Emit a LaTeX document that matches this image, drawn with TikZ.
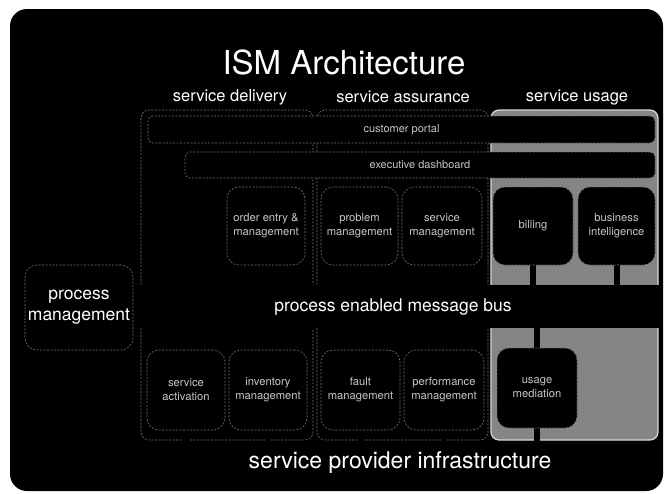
\documentclass[tikz,border=0pt]{standalone}
\usepackage{fontspec}
\setmainfont{TeX Gyre Heros}
\definecolor{usagegray}{gray}{0.52}
\definecolor{rimgray}{gray}{0.45}
\definecolor{usagerim}{gray}{0.85}
\definecolor{softtext}{gray}{0.78}
\begin{document}
\begin{tikzpicture}[x=1pt,y=-1pt,
  column/.style={draw=rimgray, dash pattern=on 2pt off 1.5pt, rounded corners=8pt, line width=0.6pt},
  usagecol/.style={draw=usagerim, fill=usagegray, rounded corners=8pt, line width=1.2pt},
  unit/.style={draw=rimgray, dash pattern=on 2pt off 1.5pt, fill=black, rounded corners=12pt,
    line width=0.6pt, inner sep=0pt, text=softtext, align=center,
    font=\fontsize{11.2}{14}\selectfont},
  bar/.style={draw=rimgray, dash pattern=on 2pt off 1.5pt, fill=black, rounded corners=5pt,
    line width=0.6pt, inner sep=0pt, text=softtext, font=\fontsize{11}{13}\selectfont},
  stem/.style={fill=black, draw=none},
  header/.style={text=white, font=\fontsize{16.5}{19}\selectfont},
]
\useasboundingbox (0,0) rectangle (666,493);
\fill[white] (0,0) rectangle (666,493);
% dark panel
\fill[black, rounded corners=17pt] (10,9) rectangle (663,491);

% titles
\node[text=white, font=\fontsize{33}{36}\selectfont] (title) at (344,62) {ISM Architecture};
\node[header] (hdel) at (230,97) {service delivery};
\node[header] (hass) at (403,97) {service assurance};
\node[header] (huse) at (577,97) {service usage};

% columns
\draw[column] (141,110) rectangle (313,440);
\draw[column] (317,110) rectangle (488,440);
\draw[usagecol] (491,110) rectangle (658,440);

% portal and dashboard bars
\node[bar, minimum width=507, minimum height=27] (portal) at (401.5,129.5) {customer portal};
\node[bar, minimum width=470, minimum height=26] (dash) at (420,165) {executive dashboard};

% message bus
\fill[black] (133,285) rectangle (661,328);
\node[text=white, font=\fontsize{17.5}{20}\selectfont] (buslabel) at (393,307) {process enabled message bus};

% process management
\node[unit, minimum width=108, minimum height=85, text=white,
  font=\fontsize{17.5}{21}\selectfont] (proc) at (79,307.5) {process\\management};

% stems from the upper row down to the bus
\foreach \cx in {266, 359.5, 442, 533, 616.5}{
  \fill[stem] (\cx-3,262) rectangle (\cx+3,286);
}
\node[unit, minimum width=78, minimum height=78] (order) at (266,226) {order entry \&\\management};
\node[unit, minimum width=77, minimum height=78] (problem) at (359.5,226) {problem\\management};
\node[unit, minimum width=80, minimum height=78] (svcm) at (442,226) {service\\management};
\node[unit, minimum width=80, minimum height=78] (billing) at (533,226) {billing};
\node[unit, minimum width=77, minimum height=78] (bi) at (616.5,226) {business\\intelligence};

% stems from the bus through the lower row to the infrastructure
\foreach \cx in {186, 268, 360.5, 444, 537}{
  \fill[stem] (\cx-3,327) rectangle (\cx+3,446);
}
\node[unit, minimum width=78, minimum height=80] (activ) at (186,390) {service\\activation};
\node[unit, minimum width=78, minimum height=80] (invent) at (268,390) {inventory\\management};
\node[unit, minimum width=79, minimum height=80] (fault) at (360.5,390) {fault\\management};
\node[unit, minimum width=80, minimum height=80] (perf) at (444,390) {performance\\management};
\node[unit, minimum width=80, minimum height=80] (medi) at (537,388) {usage\\mediation};

% infrastructure
\node[text=white, font=\fontsize{23}{26}\selectfont] (infra) at (400,463) {service provider infrastructure};
\end{tikzpicture}
\end{document}
